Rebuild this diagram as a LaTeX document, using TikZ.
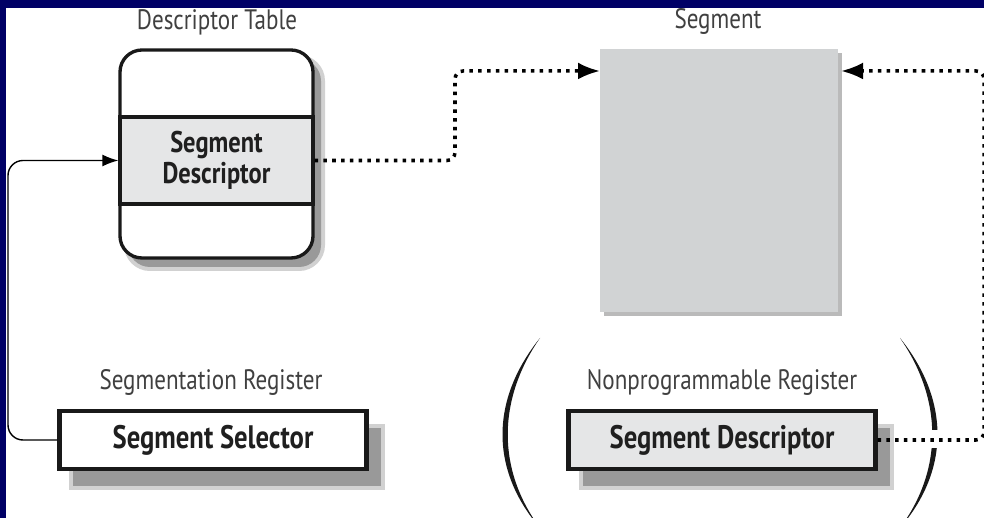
\documentclass[tikz,border=0pt]{standalone}
\usepackage{fontspec}
\setmainfont[FakeStretch=0.82]{PT Sans}
\usetikzlibrary{arrows.meta,shadows}
\definecolor{navy}{RGB}{0,0,102}
\definecolor{seggray}{RGB}{209,211,212}
\definecolor{bandgray}{RGB}{229,230,231}
\begin{document}
\begin{tikzpicture}[x=0.2mm,y=-0.2mm,
  lbl/.style={text=black!75,font=\fontsize{16}{18}\selectfont},
  boldtxt/.style={text=black!88,font=\fontsize{18.5}{19}\selectfont\bfseries,align=center},
  softshadow/.style 2 args={general shadow={shadow xshift=#1,shadow yshift=#2,fill=black!18,draw=black!18,line width=1.6mm},
    general shadow={shadow xshift=#1,shadow yshift=#2,fill=black!40}},
  regbox/.style={boldtxt,draw=black!90,line width=2.3pt,minimum width=61.4mm,minimum height=11.6mm,softshadow={2.8mm}{-3.4mm}},
  dotlink/.style={line width=2pt,dash pattern=on 2pt off 3pt,rounded corners=1.6mm,-{Latex[length=4.4mm,width=3.4mm]}},
  sellink/.style={line width=0.8pt,rounded corners=3mm,-{Latex[length=3.2mm,width=2.4mm]}},
  paren/.style={fill=black!90}]
\tikzstyle{every node}+=[inner sep=0pt]
\useasboundingbox (0,0) rectangle (984,518);
\clip (0,0) rectangle (984,518);
\fill[white] (0,0) rectangle (984,518);
\fill[navy] (0,0) rectangle (984,8);
\fill[navy] (0,0) rectangle (6,518);

\node[lbl] (dtlbl) at (217,22) {Descriptor Table};
\node[draw=black!90,line width=1.9pt,fill=white,rounded corners=4.4mm,minimum width=38.6mm,minimum height=41.6mm,
  softshadow={1.6mm}{-1.8mm}] (dt) at (216.5,154) {};
\node[boldtxt,font=\fontsize{17}{17.5}\selectfont\bfseries,draw=black!90,line width=1.9pt,fill=bandgray,minimum width=38.6mm,minimum height=17.4mm] (segdesc) at (216.5,160.5) {Segment\\Descriptor};

\node[lbl] (seglbl) at (718,21) {Segment};
\node[fill=seggray,minimum width=47.6mm,minimum height=52.6mm,
  drop shadow={shadow xshift=0.8mm,shadow yshift=-0.8mm,fill=black!45,opacity=.6}] (seg) at (719,180.5) {};

\node[lbl] (srlbl) at (211,382) {Segmentation Register};
\node[regbox,fill=white] (selector) at (213,440) {Segment Selector};
\node[lbl] (nplbl) at (722,382) {Nonprogrammable Register};
\node[regbox,fill=bandgray] (npdesc) at (722,440) {Segment Descriptor};

\fill[paren] (540,338) .. controls (490,400) and (490,470) .. (540,528) .. controls (497,470) and (497,400) .. (540,338) -- cycle;
\fill[paren] (900,338) .. controls (950,400) and (950,470) .. (900,528) .. controls (943,470) and (943,400) .. (900,338) -- cycle;
\draw[white,line width=3.6mm] (915,439) -- (950,439);

\coordinate (jog) at (455,110);
\coordinate (segL) at (600,71);
\coordinate (segR) at (841,71);
\coordinate (rturn) at (984,250);
\coordinate (lturn) at (8,300);
\draw[dotlink] (segdesc.east) -| (jog) |- (segL);
\draw[dotlink] (npdesc.east) -| (rturn) |- (segR);
\draw[sellink] (selector.west) -| (lturn) |- (segdesc.west);
\end{tikzpicture}
\end{document}
